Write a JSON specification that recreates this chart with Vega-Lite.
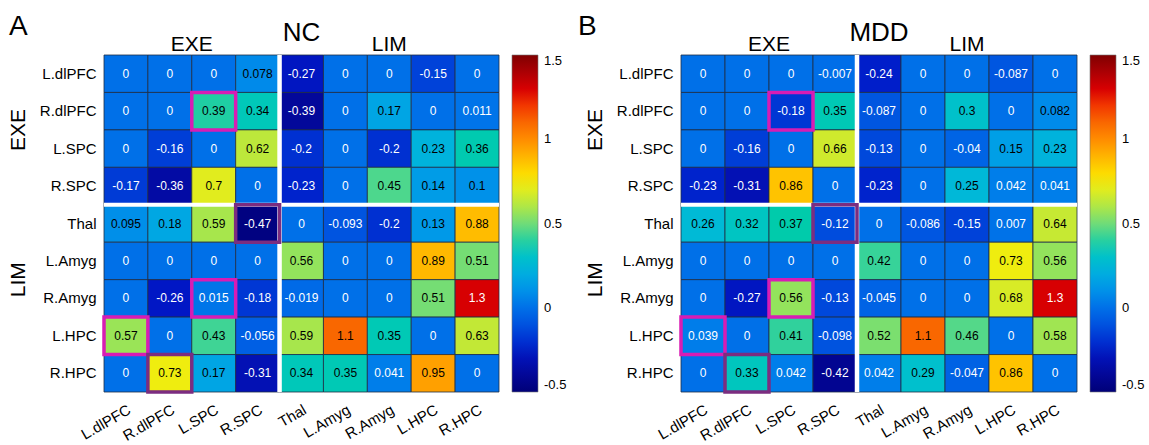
{
  "$schema": "https://vega.github.io/schema/vega-lite/v6.json",
  "padding": {"left": 8, "top": 13, "right": 0, "bottom": 0},
  "config": {
    "font": "Liberation Sans",
    "view": {"stroke": null},
    "axis": {"ticks": false, "domain": false, "labelFontSize": 15, "labelColor": "black", "grid": false},
    "axisX": {"labelAngle": -30, "labelAlign": "right", "labelBaseline": "top", "labelPadding": 10},
    "axisY": {"labelPadding": 8},
    "legend": {"padding": 0}
  },
  "resolve": {"scale": {"color": "independent", "x": "independent", "y": "independent"}, "legend": {"color": "independent"}},
  "spacing": 11,
  "datasets": {
    "hl": [
      {"r": "R.dlPFC", "c": "L.SPC", "k": "m"},
      {"r": "Thal", "c": "R.SPC", "k": "p"},
      {"r": "R.Amyg", "c": "L.SPC", "k": "m"},
      {"r": "L.HPC", "c": "L.dlPFC", "k": "m"},
      {"r": "R.HPC", "c": "R.dlPFC", "k": "p"}
    ],
    "NC": [
      {"r": "L.dlPFC", "c": "L.dlPFC", "v": 0}, {"r": "L.dlPFC", "c": "R.dlPFC", "v": 0}, {"r": "L.dlPFC", "c": "L.SPC", "v": 0}, {"r": "L.dlPFC", "c": "R.SPC", "v": 0.078}, {"r": "L.dlPFC", "c": "Thal", "v": -0.27}, {"r": "L.dlPFC", "c": "L.Amyg", "v": 0}, {"r": "L.dlPFC", "c": "R.Amyg", "v": 0}, {"r": "L.dlPFC", "c": "L.HPC", "v": -0.15}, {"r": "L.dlPFC", "c": "R.HPC", "v": 0},
      {"r": "R.dlPFC", "c": "L.dlPFC", "v": 0}, {"r": "R.dlPFC", "c": "R.dlPFC", "v": 0}, {"r": "R.dlPFC", "c": "L.SPC", "v": 0.39}, {"r": "R.dlPFC", "c": "R.SPC", "v": 0.34}, {"r": "R.dlPFC", "c": "Thal", "v": -0.39}, {"r": "R.dlPFC", "c": "L.Amyg", "v": 0}, {"r": "R.dlPFC", "c": "R.Amyg", "v": 0.17}, {"r": "R.dlPFC", "c": "L.HPC", "v": 0}, {"r": "R.dlPFC", "c": "R.HPC", "v": 0.011},
      {"r": "L.SPC", "c": "L.dlPFC", "v": 0}, {"r": "L.SPC", "c": "R.dlPFC", "v": -0.16}, {"r": "L.SPC", "c": "L.SPC", "v": 0}, {"r": "L.SPC", "c": "R.SPC", "v": 0.62}, {"r": "L.SPC", "c": "Thal", "v": -0.2}, {"r": "L.SPC", "c": "L.Amyg", "v": 0}, {"r": "L.SPC", "c": "R.Amyg", "v": -0.2}, {"r": "L.SPC", "c": "L.HPC", "v": 0.23}, {"r": "L.SPC", "c": "R.HPC", "v": 0.36},
      {"r": "R.SPC", "c": "L.dlPFC", "v": -0.17}, {"r": "R.SPC", "c": "R.dlPFC", "v": -0.36}, {"r": "R.SPC", "c": "L.SPC", "v": 0.7}, {"r": "R.SPC", "c": "R.SPC", "v": 0}, {"r": "R.SPC", "c": "Thal", "v": -0.23}, {"r": "R.SPC", "c": "L.Amyg", "v": 0}, {"r": "R.SPC", "c": "R.Amyg", "v": 0.45}, {"r": "R.SPC", "c": "L.HPC", "v": 0.14}, {"r": "R.SPC", "c": "R.HPC", "v": 0.1},
      {"r": "Thal", "c": "L.dlPFC", "v": 0.095}, {"r": "Thal", "c": "R.dlPFC", "v": 0.18}, {"r": "Thal", "c": "L.SPC", "v": 0.59}, {"r": "Thal", "c": "R.SPC", "v": -0.47}, {"r": "Thal", "c": "Thal", "v": 0}, {"r": "Thal", "c": "L.Amyg", "v": -0.093}, {"r": "Thal", "c": "R.Amyg", "v": -0.2}, {"r": "Thal", "c": "L.HPC", "v": 0.13}, {"r": "Thal", "c": "R.HPC", "v": 0.88},
      {"r": "L.Amyg", "c": "L.dlPFC", "v": 0}, {"r": "L.Amyg", "c": "R.dlPFC", "v": 0}, {"r": "L.Amyg", "c": "L.SPC", "v": 0}, {"r": "L.Amyg", "c": "R.SPC", "v": 0}, {"r": "L.Amyg", "c": "Thal", "v": 0.56}, {"r": "L.Amyg", "c": "L.Amyg", "v": 0}, {"r": "L.Amyg", "c": "R.Amyg", "v": 0}, {"r": "L.Amyg", "c": "L.HPC", "v": 0.89}, {"r": "L.Amyg", "c": "R.HPC", "v": 0.51},
      {"r": "R.Amyg", "c": "L.dlPFC", "v": 0}, {"r": "R.Amyg", "c": "R.dlPFC", "v": -0.26}, {"r": "R.Amyg", "c": "L.SPC", "v": 0.015}, {"r": "R.Amyg", "c": "R.SPC", "v": -0.18}, {"r": "R.Amyg", "c": "Thal", "v": -0.019}, {"r": "R.Amyg", "c": "L.Amyg", "v": 0}, {"r": "R.Amyg", "c": "R.Amyg", "v": 0}, {"r": "R.Amyg", "c": "L.HPC", "v": 0.51}, {"r": "R.Amyg", "c": "R.HPC", "v": 1.3},
      {"r": "L.HPC", "c": "L.dlPFC", "v": 0.57}, {"r": "L.HPC", "c": "R.dlPFC", "v": 0}, {"r": "L.HPC", "c": "L.SPC", "v": 0.43}, {"r": "L.HPC", "c": "R.SPC", "v": -0.056}, {"r": "L.HPC", "c": "Thal", "v": 0.59}, {"r": "L.HPC", "c": "L.Amyg", "v": 1.1}, {"r": "L.HPC", "c": "R.Amyg", "v": 0.35}, {"r": "L.HPC", "c": "L.HPC", "v": 0}, {"r": "L.HPC", "c": "R.HPC", "v": 0.63},
      {"r": "R.HPC", "c": "L.dlPFC", "v": 0}, {"r": "R.HPC", "c": "R.dlPFC", "v": 0.73}, {"r": "R.HPC", "c": "L.SPC", "v": 0.17}, {"r": "R.HPC", "c": "R.SPC", "v": -0.31}, {"r": "R.HPC", "c": "Thal", "v": 0.34}, {"r": "R.HPC", "c": "L.Amyg", "v": 0.35}, {"r": "R.HPC", "c": "R.Amyg", "v": 0.041}, {"r": "R.HPC", "c": "L.HPC", "v": 0.95}, {"r": "R.HPC", "c": "R.HPC", "v": 0}
    ],
    "MDD": [
      {"r": "L.dlPFC", "c": "L.dlPFC", "v": 0}, {"r": "L.dlPFC", "c": "R.dlPFC", "v": 0}, {"r": "L.dlPFC", "c": "L.SPC", "v": 0}, {"r": "L.dlPFC", "c": "R.SPC", "v": -0.007}, {"r": "L.dlPFC", "c": "Thal", "v": -0.24}, {"r": "L.dlPFC", "c": "L.Amyg", "v": 0}, {"r": "L.dlPFC", "c": "R.Amyg", "v": 0}, {"r": "L.dlPFC", "c": "L.HPC", "v": -0.087}, {"r": "L.dlPFC", "c": "R.HPC", "v": 0},
      {"r": "R.dlPFC", "c": "L.dlPFC", "v": 0}, {"r": "R.dlPFC", "c": "R.dlPFC", "v": 0}, {"r": "R.dlPFC", "c": "L.SPC", "v": -0.18}, {"r": "R.dlPFC", "c": "R.SPC", "v": 0.35}, {"r": "R.dlPFC", "c": "Thal", "v": -0.087}, {"r": "R.dlPFC", "c": "L.Amyg", "v": 0}, {"r": "R.dlPFC", "c": "R.Amyg", "v": 0.3}, {"r": "R.dlPFC", "c": "L.HPC", "v": 0}, {"r": "R.dlPFC", "c": "R.HPC", "v": 0.082},
      {"r": "L.SPC", "c": "L.dlPFC", "v": 0}, {"r": "L.SPC", "c": "R.dlPFC", "v": -0.16}, {"r": "L.SPC", "c": "L.SPC", "v": 0}, {"r": "L.SPC", "c": "R.SPC", "v": 0.66}, {"r": "L.SPC", "c": "Thal", "v": -0.13}, {"r": "L.SPC", "c": "L.Amyg", "v": 0}, {"r": "L.SPC", "c": "R.Amyg", "v": -0.04}, {"r": "L.SPC", "c": "L.HPC", "v": 0.15}, {"r": "L.SPC", "c": "R.HPC", "v": 0.23},
      {"r": "R.SPC", "c": "L.dlPFC", "v": -0.23}, {"r": "R.SPC", "c": "R.dlPFC", "v": -0.31}, {"r": "R.SPC", "c": "L.SPC", "v": 0.86}, {"r": "R.SPC", "c": "R.SPC", "v": 0}, {"r": "R.SPC", "c": "Thal", "v": -0.23}, {"r": "R.SPC", "c": "L.Amyg", "v": 0}, {"r": "R.SPC", "c": "R.Amyg", "v": 0.25}, {"r": "R.SPC", "c": "L.HPC", "v": 0.042}, {"r": "R.SPC", "c": "R.HPC", "v": 0.041},
      {"r": "Thal", "c": "L.dlPFC", "v": 0.26}, {"r": "Thal", "c": "R.dlPFC", "v": 0.32}, {"r": "Thal", "c": "L.SPC", "v": 0.37}, {"r": "Thal", "c": "R.SPC", "v": -0.12}, {"r": "Thal", "c": "Thal", "v": 0}, {"r": "Thal", "c": "L.Amyg", "v": -0.086}, {"r": "Thal", "c": "R.Amyg", "v": -0.15}, {"r": "Thal", "c": "L.HPC", "v": 0.007}, {"r": "Thal", "c": "R.HPC", "v": 0.64},
      {"r": "L.Amyg", "c": "L.dlPFC", "v": 0}, {"r": "L.Amyg", "c": "R.dlPFC", "v": 0}, {"r": "L.Amyg", "c": "L.SPC", "v": 0}, {"r": "L.Amyg", "c": "R.SPC", "v": 0}, {"r": "L.Amyg", "c": "Thal", "v": 0.42}, {"r": "L.Amyg", "c": "L.Amyg", "v": 0}, {"r": "L.Amyg", "c": "R.Amyg", "v": 0}, {"r": "L.Amyg", "c": "L.HPC", "v": 0.73}, {"r": "L.Amyg", "c": "R.HPC", "v": 0.56},
      {"r": "R.Amyg", "c": "L.dlPFC", "v": 0}, {"r": "R.Amyg", "c": "R.dlPFC", "v": -0.27}, {"r": "R.Amyg", "c": "L.SPC", "v": 0.56}, {"r": "R.Amyg", "c": "R.SPC", "v": -0.13}, {"r": "R.Amyg", "c": "Thal", "v": -0.045}, {"r": "R.Amyg", "c": "L.Amyg", "v": 0}, {"r": "R.Amyg", "c": "R.Amyg", "v": 0}, {"r": "R.Amyg", "c": "L.HPC", "v": 0.68}, {"r": "R.Amyg", "c": "R.HPC", "v": 1.3},
      {"r": "L.HPC", "c": "L.dlPFC", "v": 0.039}, {"r": "L.HPC", "c": "R.dlPFC", "v": 0}, {"r": "L.HPC", "c": "L.SPC", "v": 0.41}, {"r": "L.HPC", "c": "R.SPC", "v": -0.098}, {"r": "L.HPC", "c": "Thal", "v": 0.52}, {"r": "L.HPC", "c": "L.Amyg", "v": 1.1}, {"r": "L.HPC", "c": "R.Amyg", "v": 0.46}, {"r": "L.HPC", "c": "L.HPC", "v": 0}, {"r": "L.HPC", "c": "R.HPC", "v": 0.58},
      {"r": "R.HPC", "c": "L.dlPFC", "v": 0}, {"r": "R.HPC", "c": "R.dlPFC", "v": 0.33}, {"r": "R.HPC", "c": "L.SPC", "v": 0.042}, {"r": "R.HPC", "c": "R.SPC", "v": -0.42}, {"r": "R.HPC", "c": "Thal", "v": 0.042}, {"r": "R.HPC", "c": "L.Amyg", "v": 0.29}, {"r": "R.HPC", "c": "R.Amyg", "v": -0.047}, {"r": "R.HPC", "c": "L.HPC", "v": 0.86}, {"r": "R.HPC", "c": "R.HPC", "v": 0}
    ]
  },
  "hconcat": [
    {
      "width": 395, "height": 337,
      "layer": [
        {
          "data": {"name": "NC"},
          "mark": {"type": "rect", "stroke": "#1f2d45", "strokeWidth": 0.8},
          "encoding": {
            "x": {"field": "c", "type": "nominal", "title": null, "scale": {"domain": ["L.dlPFC","R.dlPFC","L.SPC","R.SPC","Thal","L.Amyg","R.Amyg","L.HPC","R.HPC"], "paddingInner": 0, "paddingOuter": 0}},
            "y": {"field": "r", "type": "nominal", "title": null, "scale": {"domain": ["L.dlPFC","R.dlPFC","L.SPC","R.SPC","Thal","L.Amyg","R.Amyg","L.HPC","R.HPC"], "paddingInner": 0, "paddingOuter": 0}},
            "color": {"field": "v", "type": "quantitative", "scale": {"domain": [-0.5, -0.25, 0, 0.125, 0.25, 0.375, 0.5, 0.625, 0.75, 1, 1.25, 1.5], "range": ["#000078", "#0018c8", "#0070e8", "#0098e8", "#00b8d8", "#10cca8", "#70dc78", "#c0e838", "#f8ee00", "#ff8c00", "#ee0000", "#800000"]}, "legend": {"title": null, "orient": "right", "offset": 13, "gradientLength": 337, "gradientThickness": 26, "values": [-0.5, 0, 0.5, 1, 1.5], "labelExpr": "'' + datum.value", "labelBaseline": "middle", "labelFontSize": 13, "labelColor": "black", "labelOffset": 6, "gradientStrokeColor": "#777", "gradientStrokeWidth": 0.6}}
          }
        },
        {
          "data": {"name": "NC"},
          "mark": {"type": "text", "fontSize": 12},
          "encoding": {
            "x": {"field": "c", "type": "nominal", "title": null},
            "y": {"field": "r", "type": "nominal", "title": null},
            "text": {"field": "v", "type": "nominal"},
            "color": {"condition": {"test": "datum.v < 0.05 || datum.v >= 1.2", "value": "white"}, "value": "black"}
          }
        },
        {
          "data": {"values": [{}]},
          "mark": {"type": "rule", "color": "white", "strokeWidth": 4.5},
          "encoding": {"x": {"datum": "R.SPC", "type": "nominal", "bandPosition": 1, "title": null}}
        },
        {
          "data": {"values": [{}]},
          "mark": {"type": "rule", "color": "white", "strokeWidth": 4},
          "encoding": {"y": {"datum": "R.SPC", "type": "nominal", "bandPosition": 1, "title": null}}
        },
        {
          "data": {"name": "hl"},
          "mark": {"type": "rect", "fillOpacity": 0, "strokeWidth": 3.5},
          "encoding": {
            "x": {"field": "c", "type": "nominal", "title": null},
            "y": {"field": "r", "type": "nominal", "title": null},
            "stroke": {"field": "k", "type": "nominal", "scale": {"domain": ["m", "p"], "range": ["#d81cb4", "#7b2d80"]}, "legend": null}
          }
        },
        {
          "data": {"values": [{}]},
          "mark": {"type": "text", "text": "EXE", "fontSize": 21, "baseline": "alphabetic", "dy": -4},
          "encoding": {
            "x": {"datum": "R.dlPFC", "type": "nominal", "bandPosition": 1, "title": null},
            "y": {"datum": "L.dlPFC", "type": "nominal", "bandPosition": 0, "title": null}
          }
        },
        {
          "data": {"values": [{}]},
          "mark": {"type": "text", "text": "LIM", "fontSize": 21, "baseline": "alphabetic", "dy": -4},
          "encoding": {
            "x": {"datum": "R.Amyg", "type": "nominal", "bandPosition": 0.5, "title": null},
            "y": {"datum": "L.dlPFC", "type": "nominal", "bandPosition": 0, "title": null}
          }
        },
        {
          "data": {"values": [{"t": "EXE", "ry": "R.dlPFC"}, {"t": "LIM", "ry": "L.Amyg"}]},
          "mark": {"type": "text", "fontSize": 21, "baseline": "alphabetic", "angle": 270, "dy": -79},
          "encoding": {
            "x": {"datum": "L.dlPFC", "type": "nominal", "bandPosition": 0, "title": null},
            "y": {"field": "ry", "type": "nominal", "bandPosition": 1, "title": null},
            "text": {"field": "t"}
          }
        },
        {
          "data": {"values": [{}]},
          "mark": {"type": "text", "text": "NC", "fontSize": 26, "baseline": "alphabetic", "dy": -14},
          "encoding": {
            "x": {"datum": "Thal", "type": "nominal", "bandPosition": 0.5, "title": null},
            "y": {"datum": "L.dlPFC", "type": "nominal", "bandPosition": 0, "title": null}
          }
        },
        {
          "data": {"values": [{}]},
          "mark": {"type": "text", "text": "A", "fontSize": 28, "align": "left", "baseline": "alphabetic", "dx": -95, "dy": -20},
          "encoding": {
            "x": {"datum": "L.dlPFC", "type": "nominal", "bandPosition": 0, "title": null},
            "y": {"datum": "L.dlPFC", "type": "nominal", "bandPosition": 0, "title": null}
          }
        }
      ]
    },
    {
      "width": 396, "height": 337,
      "layer": [
        {
          "data": {"name": "MDD"},
          "mark": {"type": "rect", "stroke": "#1f2d45", "strokeWidth": 0.8},
          "encoding": {
            "x": {"field": "c", "type": "nominal", "title": null, "scale": {"domain": ["L.dlPFC","R.dlPFC","L.SPC","R.SPC","Thal","L.Amyg","R.Amyg","L.HPC","R.HPC"], "paddingInner": 0, "paddingOuter": 0}},
            "y": {"field": "r", "type": "nominal", "title": null, "scale": {"domain": ["L.dlPFC","R.dlPFC","L.SPC","R.SPC","Thal","L.Amyg","R.Amyg","L.HPC","R.HPC"], "paddingInner": 0, "paddingOuter": 0}},
            "color": {"field": "v", "type": "quantitative", "scale": {"domain": [-0.5, -0.25, 0, 0.125, 0.25, 0.375, 0.5, 0.625, 0.75, 1, 1.25, 1.5], "range": ["#000078", "#0018c8", "#0070e8", "#0098e8", "#00b8d8", "#10cca8", "#70dc78", "#c0e838", "#f8ee00", "#ff8c00", "#ee0000", "#800000"]}, "legend": {"title": null, "orient": "right", "offset": 13, "gradientLength": 337, "gradientThickness": 26, "values": [-0.5, 0, 0.5, 1, 1.5], "labelExpr": "'' + datum.value", "labelBaseline": "middle", "labelFontSize": 13, "labelColor": "black", "labelOffset": 6, "gradientStrokeColor": "#777", "gradientStrokeWidth": 0.6}}
          }
        },
        {
          "data": {"name": "MDD"},
          "mark": {"type": "text", "fontSize": 12},
          "encoding": {
            "x": {"field": "c", "type": "nominal", "title": null},
            "y": {"field": "r", "type": "nominal", "title": null},
            "text": {"field": "v", "type": "nominal"},
            "color": {"condition": {"test": "datum.v < 0.05 || datum.v >= 1.2", "value": "white"}, "value": "black"}
          }
        },
        {
          "data": {"values": [{}]},
          "mark": {"type": "rule", "color": "white", "strokeWidth": 4.5},
          "encoding": {"x": {"datum": "R.SPC", "type": "nominal", "bandPosition": 1, "title": null}}
        },
        {
          "data": {"values": [{}]},
          "mark": {"type": "rule", "color": "white", "strokeWidth": 4},
          "encoding": {"y": {"datum": "R.SPC", "type": "nominal", "bandPosition": 1, "title": null}}
        },
        {
          "data": {"name": "hl"},
          "mark": {"type": "rect", "fillOpacity": 0, "strokeWidth": 3.5},
          "encoding": {
            "x": {"field": "c", "type": "nominal", "title": null},
            "y": {"field": "r", "type": "nominal", "title": null},
            "stroke": {"field": "k", "type": "nominal", "scale": {"domain": ["m", "p"], "range": ["#d81cb4", "#7b2d80"]}, "legend": null}
          }
        },
        {
          "data": {"values": [{}]},
          "mark": {"type": "text", "text": "EXE", "fontSize": 21, "baseline": "alphabetic", "dy": -4},
          "encoding": {
            "x": {"datum": "R.dlPFC", "type": "nominal", "bandPosition": 1, "title": null},
            "y": {"datum": "L.dlPFC", "type": "nominal", "bandPosition": 0, "title": null}
          }
        },
        {
          "data": {"values": [{}]},
          "mark": {"type": "text", "text": "LIM", "fontSize": 21, "baseline": "alphabetic", "dy": -4},
          "encoding": {
            "x": {"datum": "R.Amyg", "type": "nominal", "bandPosition": 0.5, "title": null},
            "y": {"datum": "L.dlPFC", "type": "nominal", "bandPosition": 0, "title": null}
          }
        },
        {
          "data": {"values": [{"t": "EXE", "ry": "R.dlPFC"}, {"t": "LIM", "ry": "L.Amyg"}]},
          "mark": {"type": "text", "fontSize": 21, "baseline": "alphabetic", "angle": 270, "dy": -79},
          "encoding": {
            "x": {"datum": "L.dlPFC", "type": "nominal", "bandPosition": 0, "title": null},
            "y": {"field": "ry", "type": "nominal", "bandPosition": 1, "title": null},
            "text": {"field": "t"}
          }
        },
        {
          "data": {"values": [{}]},
          "mark": {"type": "text", "text": "MDD", "fontSize": 26, "baseline": "alphabetic", "dy": -14},
          "encoding": {
            "x": {"datum": "Thal", "type": "nominal", "bandPosition": 0.5, "title": null},
            "y": {"datum": "L.dlPFC", "type": "nominal", "bandPosition": 0, "title": null}
          }
        },
        {
          "data": {"values": [{}]},
          "mark": {"type": "text", "text": "B", "fontSize": 28, "align": "left", "baseline": "alphabetic", "dx": -103, "dy": -20},
          "encoding": {
            "x": {"datum": "L.dlPFC", "type": "nominal", "bandPosition": 0, "title": null},
            "y": {"datum": "L.dlPFC", "type": "nominal", "bandPosition": 0, "title": null}
          }
        }
      ]
    }
  ]
}
